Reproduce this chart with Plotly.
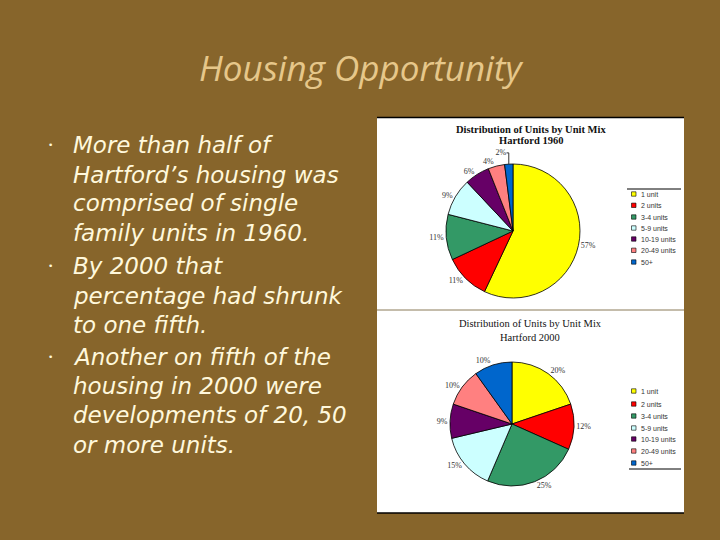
import plotly.graph_objects as go

# ---- data ----
categories = ["1 unit", "2 units", "3-4 units", "5-9 units", "10-19 units", "20-49 units", "50+"]
share_1960 = [57, 11, 11, 9, 6, 4, 2]
share_2000 = [20, 12, 25, 15, 9, 10, 10]
slice_colors = ["#FFFF00", "#FF0000", "#339966", "#CCFFFF", "#660066", "#FF8080", "#0066CC"]

slide_title = "Housing Opportunity"
bullets = [
    ["More than half of", "Hartford\u2019s housing was", "comprised of single", "family units in 1960."],
    ["By 2000 that", "percentage had shrunk", "to one fifth."],
    ["Another on fifth of the", "housing in 2000 were", "developments of 20, 50", "or more units."],
]
chart_titles = [["Distribution of Units by Unit Mix", "Hartford 1960"],
                ["Distribution of Units by Unit Mix", "Hartford 2000"]]

W, H = 720, 540
BG = "#87652B"

def px(x):
    return x / W

def py(y):
    return 1 - y / H

fig = go.Figure()

pie_boxes = [(446, 580, 164, 298), (450, 574, 362, 486)]
for vals, (x0, x1, y0, y1) in zip([share_1960, share_2000], pie_boxes):
    fig.add_trace(go.Pie(
        labels=categories, values=vals, sort=False, direction="clockwise", rotation=0,
        marker=dict(colors=slice_colors, line=dict(color="#000000", width=0.8)),
        texttemplate="%{value}%", textposition="outside", textinfo="text",
        outsidetextfont=dict(family="Liberation Serif", size=8, color="#333333"),
        domain=dict(x=[px(x0), px(x1)], y=[py(y1), py(y0)]),
        showlegend=False, hoverinfo="label+percent", automargin=False,
    ))

shapes = []
annotations = []

# white panel
shapes.append(dict(type="rect", xref="paper", yref="paper", x0=px(377), x1=px(684), y0=py(513), y1=py(117),
                   fillcolor="#FFFFFF", line=dict(width=0), layer="below"))
for yy in (117.5, 513):
    shapes.append(dict(type="line", xref="paper", yref="paper", x0=px(377), x1=px(684), y0=py(yy), y1=py(yy),
                       line=dict(color="#000000", width=1.5)))
shapes.append(dict(type="line", xref="paper", yref="paper", x0=px(377), x1=px(684), y0=py(310), y1=py(310),
                   line=dict(color="#8A7A58", width=1)))

# legend lines
shapes.append(dict(type="line", xref="paper", yref="paper", x0=px(627), x1=px(681), y0=py(189), y1=py(189),
                   line=dict(color="#000000", width=1)))
shapes.append(dict(type="line", xref="paper", yref="paper", x0=px(629), x1=px(681), y0=py(469), y1=py(469),
                   line=dict(color="#000000", width=1)))

legend_rows = [[194, 205.3, 217, 228, 239, 250.3, 262], [391, 404, 416, 428, 439, 451, 463]]
for rows in legend_rows:
    for cat, col, yy in zip(categories, slice_colors, rows):
        shapes.append(dict(type="rect", xref="paper", yref="paper", x0=px(631.5), x1=px(636), y0=py(yy + 2.2),
                           y1=py(yy - 2.2), fillcolor=col, line=dict(color="#000000", width=0.6)))
        annotations.append(dict(x=px(639), y=py(yy), xref="paper", yref="paper", text=cat, showarrow=False,
                                xanchor="left", yanchor="middle",
                                font=dict(family="Liberation Sans", size=7, color="#333333")))

# chart titles
title_pos = [(531, [129, 141], True), (530, [323, 337], False)]
for lines, (cx, ys, bold) in zip(chart_titles, title_pos):
    for line, yy in zip(lines, ys):
        annotations.append(dict(x=px(cx), y=py(yy), xref="paper", yref="paper",
                                text=f"<b>{line}</b>" if bold else line, showarrow=False,
                                xanchor="center", yanchor="middle",
                                font=dict(family="Liberation Serif", size=10.5, color="#111111")))

# slide title
annotations.append(dict(x=px(361), y=py(68), xref="paper", yref="paper", text=f"<i>{slide_title}</i>",
                        showarrow=False, xanchor="center", yanchor="middle",
                        font=dict(family="Open Sans", size=35, color="#E6C78A")))

# bullets
line_ys = [[145, 174.5, 203.5, 233], [266, 296, 325], [357, 386, 415, 444.5]]
for blines, ys in zip(bullets, line_ys):
    annotations.append(dict(x=px(50), y=py(ys[0]), xref="paper", yref="paper", text="\u2022", showarrow=False,
                            xanchor="center", yanchor="middle",
                            font=dict(family="DejaVu Sans", size=9, color="#FFF8DC")))
    for line, yy in zip(blines, ys):
        annotations.append(dict(x=px(71), y=py(yy), xref="paper", yref="paper", text=f"<i>{line}</i>",
                                showarrow=False, xanchor="left", yanchor="middle",
                                font=dict(family="DejaVu Sans", size=23, color="#FFF8DC")))

fig.update_layout(
    width=W, height=H, margin=dict(l=0, r=0, t=0, b=0),
    paper_bgcolor=BG, plot_bgcolor=BG,
    shapes=shapes, annotations=annotations, showlegend=False,
)

fig.write_html("out.html", config={"displayModeBar": False},
               post_script="document.body.style.margin='0';document.body.style.overflow='hidden';")
